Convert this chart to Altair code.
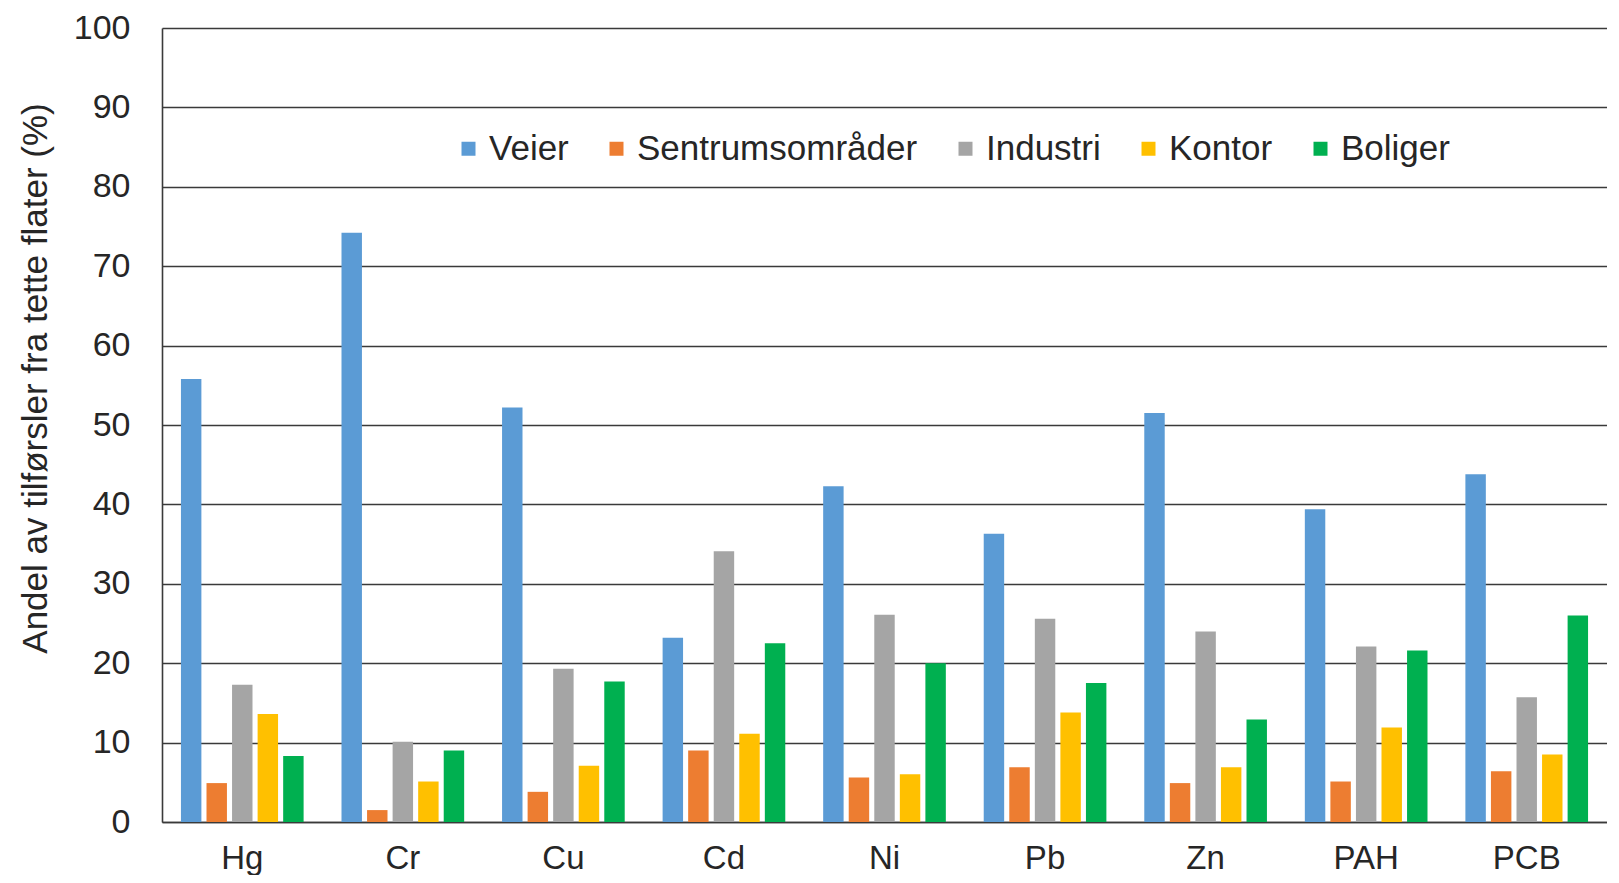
import altair as alt
import pandas as pd

categories = ["Hg", "Cr", "Cu", "Cd", "Ni", "Pb", "Zn", "PAH", "PCB"]
series = ["Veier", "Sentrumsområder", "Industri", "Kontor", "Boliger"]
colors = ["#5B9BD5", "#ED7D31", "#A5A5A5", "#FFC000", "#00B050"]

veier = [55.8, 74.2, 52.2, 23.2, 42.3, 36.3, 51.5, 39.4, 43.8]
sentrum = [4.9, 1.5, 3.8, 9.0, 5.6, 6.9, 4.9, 5.1, 6.4]
industri = [17.3, 10.1, 19.3, 34.1, 26.1, 25.6, 24.0, 22.1, 15.7]
kontor = [13.6, 5.1, 7.1, 11.1, 6.0, 13.8, 6.9, 11.9, 8.5]
boliger = [8.3, 9.0, 17.7, 22.5, 20.0, 17.5, 12.9, 21.6, 26.0]

y_ticks = [0, 10, 20, 30, 40, 50, 60, 70, 80, 90, 100]

values = [veier, sentrum, industri, kontor, boliger]
rows = []
for s, vals in zip(series, values):
    for c, v in zip(categories, vals):
        rows.append({"kategori": c, "kilde": s, "andel": v})
df = pd.DataFrame(rows)

FONT = "Liberation Sans"
DARK = "#262626"
GRID = "#3a3a3a"

chart = alt.Chart(df).mark_bar().encode(
    x=alt.X(
        "kategori:N",
        sort=categories,
        scale=alt.Scale(paddingInner=0.236, paddingOuter=0.118),
        axis=alt.Axis(
            title=None,
            labelAngle=0,
            ticks=False,
            domain=True,
            domainColor=GRID,
            domainWidth=1.6,
            labelFontSize=33,
            labelFont=FONT,
            labelColor=DARK,
            labelPadding=20,
        ),
    ),
    xOffset=alt.XOffset(
        "kilde:N",
        sort=series,
        scale=alt.Scale(paddingInner=0.2, paddingOuter=0),
    ),
    y=alt.Y(
        "andel:Q",
        scale=alt.Scale(domain=[0, 100], nice=False),
        axis=alt.Axis(
            title="Andel av tilførsler fra tette flater (%)",
            values=y_ticks,
            grid=True,
            gridColor=GRID,
            gridWidth=1.6,
            gridOpacity=1,
            ticks=False,
            domain=True,
            domainColor=GRID,
            domainWidth=1.6,
            labelFontSize=34,
            labelFont=FONT,
            labelColor=DARK,
            labelPadding=32,
            titleFontSize=35,
            titleFont=FONT,
            titleFontWeight="normal",
            titleColor=DARK,
            titlePadding=20,
            titleY=350,
        ),
    ),
    color=alt.Color(
        "kilde:N",
        sort=series,
        scale=alt.Scale(domain=series, range=colors),
        legend=alt.Legend(
            title=None,
            orient="none",
            direction="horizontal",
            legendX=289,
            legendY=103,
            symbolType="square",
            symbolSize=196,
            symbolStrokeWidth=0,
            labelFontSize=35,
            labelFont=FONT,
            labelColor=DARK,
            labelOffset=3,
            labelLimit=0,
            columnPadding=30,
            padding=0,
        ),
    ),
).properties(
    width=1445,
    height=794,
    padding={"left": 10, "top": 3, "right": 0, "bottom": 0},
).configure_view(
    stroke=None
).configure_axis(
    gridCap="butt"
)

chart.save("out.html", embed_options={"renderer": "svg", "actions": False})
